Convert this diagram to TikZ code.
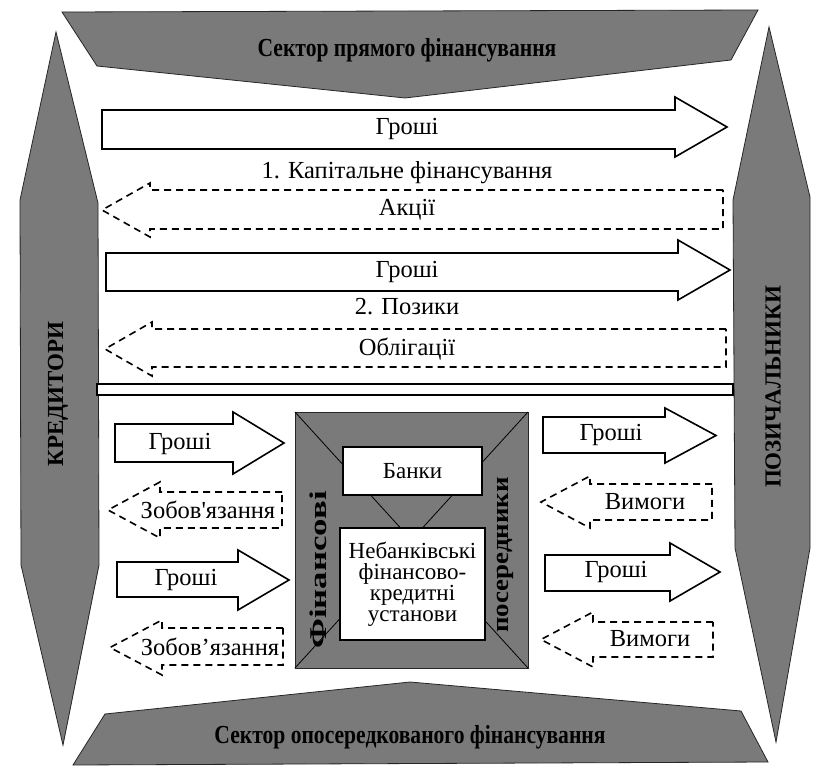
\documentclass[tikz,border=0pt]{standalone}
\usepackage{fontspec}
\setmainfont{Liberation Serif}
\newfontfamily\plainserif{Liberation Serif}
\newcommand\RArrow[7]{%
  \draw[solidarrow] (#1,#4) -- (#2,#4) -- (#2,#6) -- (#3,{(#6+#7)/2}) -- (#2,#7) -- (#2,#5) -- (#1,#5) -- cycle;}
\newcommand\LDash[7]{%
  \draw[dasharrow] (#1,#4) -- (#2,#4) -- (#2,#6) -- (#3,{(#6+#7)/2}) -- (#2,#7) -- (#2,#5) -- (#1,#5) -- cycle;}
\tikzset{
  shadefill/.style={fill=black!52, draw=black!85, line width=0.8pt},
  solidarrow/.style={draw=black, line width=1.6pt, fill=white, line join=miter},
  dasharrow/.style={draw=black, line width=1.6pt, dash pattern=on 7pt off 5pt, fill=white},
  lbl/.style={font=\fontsize{24.5}{24.5}\selectfont, inner sep=0pt},
  ttl/.style={font=\bfseries\fontsize{26}{26}\selectfont, inner sep=0pt},
  side/.style={font=\bfseries\fontsize{23}{23}\selectfont, inner sep=0pt, rotate=90},
  midside/.style={font=\bfseries\fontsize{24}{24}\selectfont, inner sep=0pt, rotate=90},
  boxw/.style={draw=black, line width=1.6pt, fill=white},
}
\begin{document}
\begin{tikzpicture}[x=1pt,y=-1pt]
\useasboundingbox[fill=white] (0,0) rectangle (813,775);
% banners and pillars
\draw[shadefill] (62,12) -- (758,10) -- (731,60) -- (405,98) -- (97,66) -- cycle;
\node[ttl] (topsec) at (407,50) {\scalebox{0.83}[1]{Сектор прямого фінансування}};
\draw[shadefill] (56,32) -- (98,203) -- (99,565) -- (63,745) -- (21,565) -- (20,200) -- cycle;
\node[side] (kred) at (58,394) {КРЕДИТОРИ};
\draw[shadefill] (769,27) -- (810,197) -- (810,548) -- (776,742) -- (735,548) -- (733,200) -- cycle;
\node[side] (poz) at (773,387) {ПОЗИЧАЛЬНИКИ};
\draw[shadefill] (73,765) -- (105,714) -- (410,682) -- (741,711) -- (768,762) -- cycle;
\node[ttl] (botsec) at (410,737) {\scalebox{0.83}[1]{Сектор опосередкованого фінансування}};
% direct financing
\RArrow{102}{675}{727}{110}{149}{97}{157}
\node[lbl] (g1) at (407,129) {Гроші};
\node[lbl] (kap) at (407,173) {1. Капітальне фінансування};
\LDash{723}{150}{102}{190}{229}{183}{237}
\node[lbl] (akc) at (407,210) {Акції};
\RArrow{106}{678}{730}{253}{291}{240}{300}
\node[lbl] (g2) at (407,272) {Гроші};
\node[lbl] (poz2) at (407,307) {2. Позики};
\LDash{726}{152}{105}{329}{367}{322}{376}
\node[lbl] (obl) at (407,349) {Облігації};
\draw[solidarrow] (97,384) rectangle (733,395);
% intermediaries
\draw[shadefill] (295,412) rectangle (528,668);
\draw[line width=0.8pt] (295,412) -- (528,668) (528,412) -- (295,668);
\node[boxw, minimum width=139pt, minimum height=48pt, inner sep=0pt, font=\fontsize{23}{23}\selectfont] (bank) at (412.5,471) {Банки};
\node[boxw, minimum width=145pt, minimum height=112pt, inner sep=0pt, font=\fontsize{23}{21}\selectfont, align=center] (nbank) at (412.5,584) {Небанківські\\фінансово-\\кредитні\\установи};
\node[midside] (fin) at (318,570) {\scalebox{1.45}[1]{Фінансові}};
\node[midside] (pos) at (505,555) {\scalebox{1.12}[1]{посередники}};
% left side
\RArrow{115}{233}{284}{424}{462}{412}{474}
\node[lbl] (gl1) at (180,444) {Гроші};
\LDash{282}{160}{108}{492}{528}{482}{538}
\node[lbl] (z1) at (208,510) {\plainserif Зобов'язання};
\RArrow{117}{238}{289}{562}{597}{550}{610}
\node[lbl] (gl2) at (186,580) {Гроші};
\LDash{283}{162}{110}{628}{665}{620}{675}
\node[lbl] (z2) at (210,647) {Зобов’язання};
% right side
\RArrow{543}{665}{716}{417}{453}{408}{463}
\node[lbl] (gr1) at (611,435) {Гроші};
\LDash{712}{590}{541}{484}{520}{476}{528}
\node[lbl] (v1) at (645,502) {Вимоги};
\RArrow{545}{670}{720}{555}{591}{543}{601}
\node[lbl] (gr2) at (616,572) {Гроші};
\LDash{713}{593}{541}{622}{657}{612}{667}
\node[lbl] (v2) at (650,639) {Вимоги};
\end{tikzpicture}
\end{document}
